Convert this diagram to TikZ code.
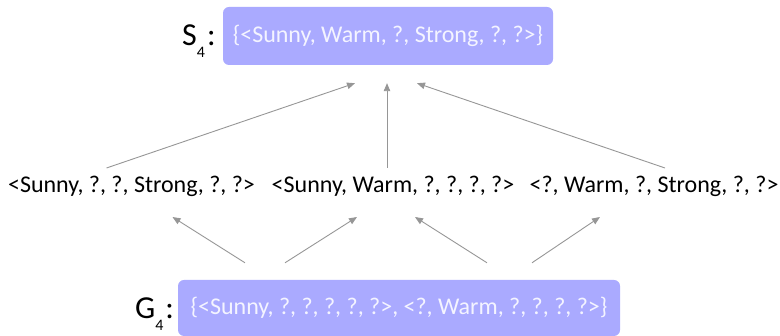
\documentclass[tikz,border=0pt]{standalone}
\usepackage{fontspec}
\setmainfont{Carlito}
\usetikzlibrary{arrows.meta,calc}
\definecolor{boxblue}{RGB}{170,170,255}
\definecolor{boxtext}{RGB}{244,244,255}
\definecolor{arrgray}{RGB}{150,150,150}
\begin{document}
\begin{tikzpicture}[x=1pt,y=-1pt,
  setbox/.style={rectangle,rounded corners=6pt,fill=boxblue,text=boxtext,inner sep=0pt,font=\fontsize{24}{26}\selectfont},
  hyp/.style={inner sep=0pt,font=\fontsize{24}{26}\selectfont},
  biglabel/.style={inner sep=0pt,font=\fontsize{32}{34}\selectfont},
  arr/.style={draw=arrgray,line width=0.9pt,-{Triangle[length=8pt,width=6.5pt]},arrgray}]
\useasboundingbox (0,0) rectangle (780,336);
\node[setbox,minimum width=330pt,minimum height=58pt] (S) at (388,36) {\{<Sunny, Warm, ?, Strong, ?, ?>\}};
\node[biglabel,anchor=base west] (SL) at (182,46) {S\raisebox{-12pt}{\fontsize{16}{17}\selectfont 4}\hspace{2pt}:};
\node[hyp] (m1) at (131.5,186) {<Sunny, ?, ?, Strong, ?, ?>};
\node[hyp] (m2) at (393,186) {<Sunny, Warm, ?, ?, ?, ?>};
\node[hyp] (m3) at (654,186) {<?, Warm, ?, Strong, ?, ?>};
\node[setbox,minimum width=442pt,minimum height=56pt] (G) at (399,308) {\{<Sunny, ?, ?, ?, ?, ?>, <?, Warm, ?, ?, ?, ?>\}};
\node[biglabel,anchor=base west] (GL) at (135,319) {G\raisebox{-12pt}{\fontsize{16}{17}\selectfont 4}\hspace{2pt}:};
% upper arrows
\draw[arr] ($(m1.center)+(-25,-18)$) -- ($(S.south)+(-33,18)$);
\draw[arr] ($(m2.center)+(-6,-18)$) -- ($(S.south)+(-1,18)$);
\draw[arr] ($(m3.center)+(11,-18)$) -- ($(S.south)+(29,18)$);
% lower arrows
\draw[arr] ($(G.north)+(-154,-17)$) -- ($(m1.center)+(41,31)$);
\draw[arr] ($(G.north)+(-114,-17)$) -- ($(m2.center)+(-36,31)$);
\draw[arr] ($(G.north)+(88,-17)$) -- ($(m2.center)+(22,31)$);
\draw[arr] ($(G.north)+(133,-17)$) -- ($(m3.center)+(-54,31)$);
\end{tikzpicture}
\end{document}
